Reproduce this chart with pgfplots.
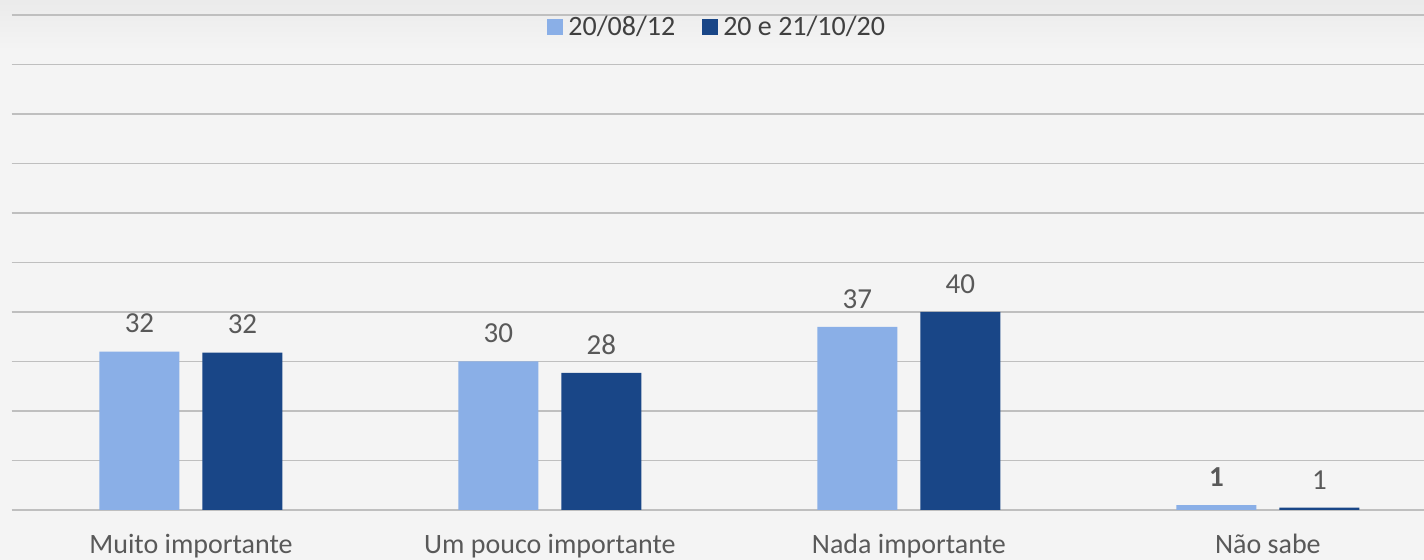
\documentclass[border=0pt]{standalone}
\usepackage{fontspec}
\setmainfont{Carlito}
\usepackage{pgfplots}
\pgfplotsset{compat=1.18}
\definecolor{bg}{HTML}{F4F4F4}
\definecolor{lightbar}{HTML}{8AAFE7}
\definecolor{darkbar}{HTML}{194687}
\definecolor{txt}{HTML}{595959}
\definecolor{grid}{HTML}{E0E0E0}
\begin{document}
\begin{tikzpicture}
\path[use as bounding box, fill=bg] (-5.75pt,-25pt) rectangle (706.25pt,255pt);
\shade[top color=black!8, bottom color=bg] (-5.75pt,230pt) rectangle (706.25pt,255pt);
\begin{axis}[
  at={(0pt,0pt)}, anchor=south west,
  scale only axis,
  width=706.25pt, height=247.5pt,
  xmin=-0.5, xmax=3.435,
  ymin=0, ymax=100,
  ytick={0,10,...,100},
  yticklabels={},
  ymajorgrids=true, xmajorgrids=false,
  grid style={grid, line width=0.8pt},
  axis line style={draw=none},
  tick style={draw=none},
  major tick length=0pt,
  xtick={0,1,2,3},
  xticklabels={Muito importante, Um pouco importante, Nada importante, Não sabe},
  xticklabel style={font=\fontsize{14}{17}\selectfont, text=txt, anchor=base, yshift=-22pt},
  ybar=11.5pt,
  bar width=40pt,
  nodes near coords,
  point meta=explicit symbolic,
  every node near coord/.append style={font=\fontsize{14.5}{17}\selectfont, text=txt, inner sep=0pt, yshift=9pt, anchor=south},
  legend style={at={(0.5,0.976)}, anchor=center, legend columns=2, draw=none, fill=none,
    font=\fontsize{14}{17}\selectfont, text=black!75,
    nodes={inner xsep=1.5pt},
    /tikz/every odd column/.append style={column sep=1pt},
    /tikz/every even column/.append style={column sep=12pt}},
  legend image code/.code={\fill[#1] (0pt,-4pt) rectangle (8pt,4pt);},
  clip=false,
]
\addplot[fill=lightbar, draw=none] coordinates {(0,32) [32] (1,30) [30] (2,37) [37] (3,1) [\textbf{1}]};
\addplot[fill=darkbar, draw=none] coordinates {(0,31.8) [32] (1,27.7) [28] (2,40) [40] (3,0.5) [1]};
\legend{20/08/12, 20 e 21/10/20}
\end{axis}
\end{tikzpicture}
\end{document}
